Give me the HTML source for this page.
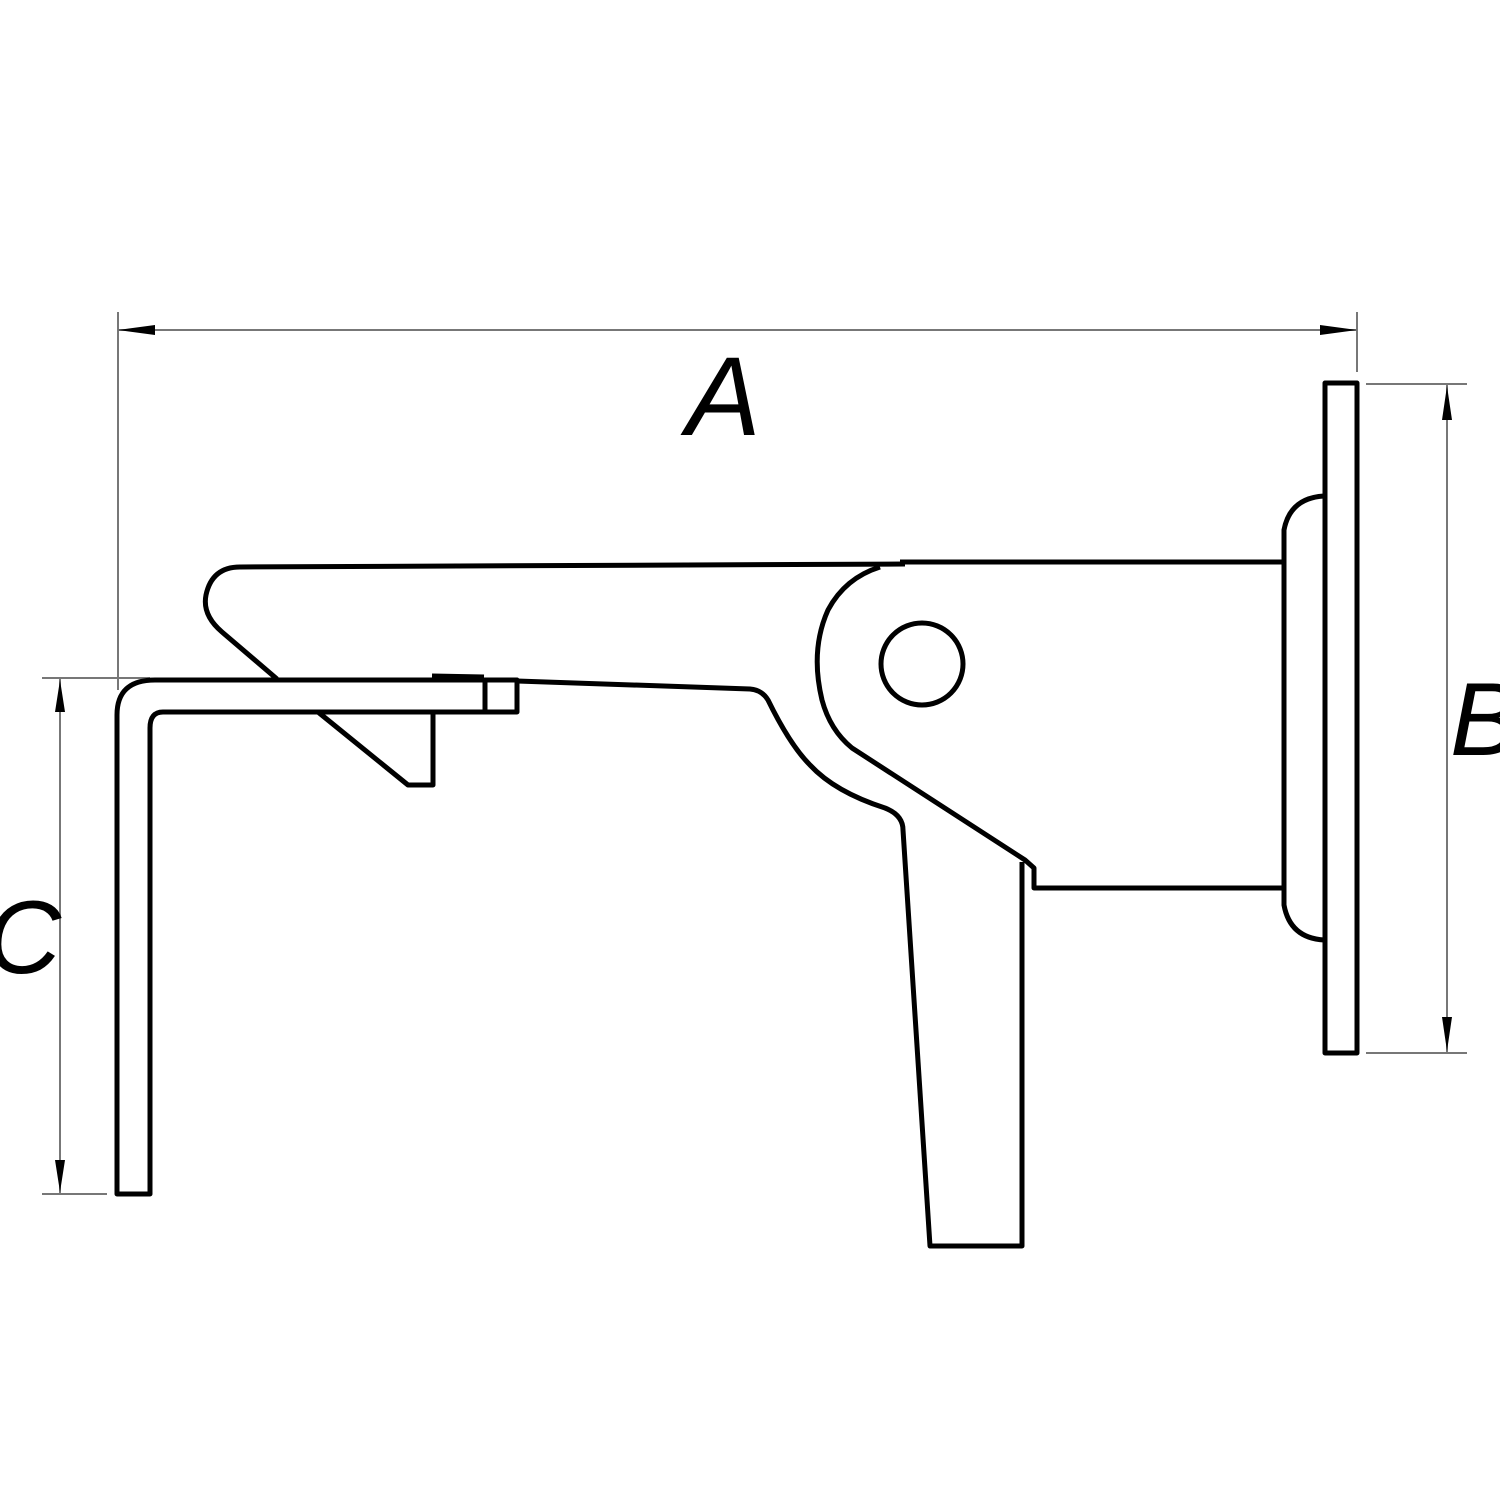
<!DOCTYPE html>
<html><head><style>
html,body{margin:0;padding:0;background:#fff;width:1500px;height:1500px;overflow:hidden}
svg{display:block}
text{font-family:"Liberation Sans",sans-serif;font-style:italic;fill:#000}
</style></head><body>
<svg width="1500" height="1500" viewBox="0 0 1500 1500" xmlns="http://www.w3.org/2000/svg">
<rect width="1500" height="1500" fill="#fff"/>
<g stroke="#777" stroke-width="2" fill="none">
<line x1="118" y1="312" x2="118" y2="690"/>
<line x1="1357" y1="312" x2="1357" y2="372"/>
<line x1="118" y1="330" x2="1357" y2="330"/>
<line x1="1366" y1="384" x2="1467" y2="384"/>
<line x1="1366" y1="1053" x2="1467" y2="1053"/>
<line x1="1447" y1="384" x2="1447" y2="1053"/>
<line x1="42" y1="678" x2="150" y2="678"/>
<line x1="42" y1="1194" x2="107" y2="1194"/>
<line x1="60" y1="678" x2="60" y2="1194"/>
</g>
<g fill="#000">
<polygon points="118,330 155,325 155,335"/>
<polygon points="1357,330 1320,325 1320,335"/>
<polygon points="1447,386 1442,420 1452,420"/>
<polygon points="1447,1051 1442,1017 1452,1017"/>
<polygon points="60,680 55,712 65,712"/>
<polygon points="60,1192 55,1160 65,1160"/>
</g>
<text x="686" y="435" font-size="112">A</text>
<text x="1450" y="755" font-size="104">B</text>
<text x="-14" y="973" font-size="104">C</text>
<g stroke="#000" stroke-width="5" fill="none" stroke-linejoin="round">
<path d="M117,1194 L117,715 Q117,680 155,680 L517,680 L517,712 L163,712 Q150,712 150,728 L150,1194 Z"/>
<line x1="485" y1="680" x2="485" y2="712"/>
<path d="M432,676 L484,677"/>
<path d="M905,564 L240,567 Q212,567 206,595 Q202,615 222,632 L277,679"/>
<path d="M318,712 L408,785 L433,785 L433,712"/>
<path d="M517,681 L750,689 Q762,690 768,700 Q790,745 810,765 Q835,792 885,808 Q903,815 903,830 L930,1246 L1022,1246 L1022,862"/>
<path d="M880,567 Q845,578 828,610 Q810,650 822,700 Q830,730 852,748 L1025,860 L1034,868 L1034,888 L1284,888"/>
<line x1="900" y1="562" x2="1284" y2="562"/>
<ellipse cx="922" cy="664" rx="41" ry="41"/>
<path d="M1324,496 Q1290,498 1284,530 L1284,905 Q1290,938 1324,940"/>
<rect x="1325" y="383" width="32" height="670"/>
</g>
</svg>
</body></html>
